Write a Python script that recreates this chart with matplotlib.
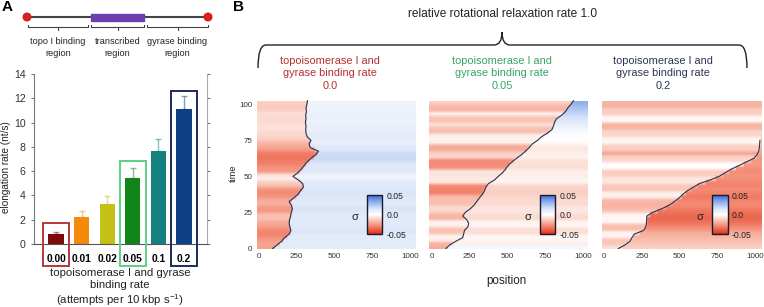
import numpy as np
import matplotlib
matplotlib.use('Agg')
import matplotlib.pyplot as plt
from matplotlib.colors import LinearSegmentedColormap
from matplotlib.patches import Rectangle, Circle, PathPatch
from matplotlib.path import Path

plt.rcParams['font.family'] = ['Liberation Sans', 'DejaVu Sans']
plt.rcParams['mathtext.fontset'] = 'custom'
plt.rcParams['mathtext.rm'] = 'Liberation Sans'
plt.rcParams['mathtext.it'] = 'Liberation Sans:italic'

# ---- panel A data ----
binding_rates = ['0.00', '0.01', '0.02', '0.05', '0.1', '0.2']
elong_rate = [0.85, 2.2, 3.3, 5.4, 7.7, 11.1]
elong_err = [0.1, 0.5, 0.65, 0.85, 0.95, 1.05]
bar_colors = ['#7b0a0a', '#f58a0a', '#c4c015', '#12851a', '#148080', '#0f3f85']

# ---- panel B data (row edges in time, polymerase position, supercoiling) ----
time = [0, 2.5, 5, 7.5, 10, 12.5, 15, 17.5, 20, 22.5, 25, 27.5, 30, 32.5,
        35, 37.5, 40, 42.5, 45, 47.5, 50, 52.5, 55, 57.5, 60, 62.5, 65,
        67.5, 70, 72.5, 75, 77.5, 80, 82.5, 85, 87.5, 90, 92.5, 95, 97.5,
        100, 102.5]

pos_r0 = [90, 120, 150, 170, 200, 212, 205, 200, 203, 210, 214, 222, 215,
          200, 230, 258, 275, 295, 290, 262, 225, 258, 280, 300, 318, 345,
          375, 395, 340, 332, 345, 320, 312, 310, 312, 308, 312, 310, 315,
          312, 318, 322]
left_r0 = [-0.022, -0.022, -0.024, -0.028, -0.03, -0.027, -0.022, -0.02,
           -0.015, -0.016, -0.025, -0.024, -0.019, -0.02, -0.026, -0.028,
           -0.026, -0.016, -0.012, -0.004, -0.008, -0.024, -0.026, -0.03,
           -0.032, -0.033, -0.031, -0.024, -0.02, -0.017, -0.012, -0.01,
           -0.009, -0.007, -0.008, -0.009, -0.009, -0.008, -0.012, -0.013,
           -0.012]
right_r0 = [0.011, 0.011, 0.011, 0.011, 0.014, 0.014, 0.012, 0.012, 0.012,
            0.012, 0.015, 0.015, 0.012, 0.012, 0.014, 0.014, 0.014, 0.012,
            0.012, 0.007, 0.007, 0.013, 0.013, 0.013, 0.018, 0.018, 0.018,
            0.013, 0.013, 0.008, 0.011, 0.011, 0.009, 0.009, 0.008, 0.008,
            0.008, 0.008, 0.007, 0.007, 0.007]

pos_r05 = [95, 120, 160, 205, 212, 217, 240, 245, 232, 206, 222, 255, 280,
           298, 315, 335, 350, 358, 375, 415, 440, 468, 488, 505, 530, 560,
           593, 620, 645, 665, 700, 726, 765, 795, 805, 812, 825, 860, 885,
           900, 920, 937]
left_r05 = [-0.02, -0.018, -0.004, -0.003, -0.014, -0.015, -0.004, -0.003,
            -0.018, -0.017, -0.01, -0.009, -0.016, -0.016, -0.017, -0.03,
            -0.03, -0.028, -0.006, -0.005, -0.007, -0.006, -0.026, -0.028,
            -0.027, -0.01, -0.011, -0.02, -0.02, -0.004, -0.003, -0.005,
            -0.016, -0.015, -0.008, -0.015, -0.014, -0.003, -0.018, -0.017,
            -0.012]
right_r05 = [0.004, -0.004, -0.002, -0.002, -0.008, -0.008, -0.002, -0.003,
             -0.009, -0.008, -0.006, -0.006, -0.009, -0.009, -0.01, -0.012,
             -0.011, -0.01, -0.003, -0.003, -0.004, -0.004, -0.008, -0.008,
             -0.007, -0.003, -0.004, -0.006, -0.005, -0.001, 0.0, 0.001,
             0.004, 0.006, 0.009, 0.013, 0.016, 0.02, 0.024, 0.028, 0.032]

nan = np.nan
pos_r2 = [95, 140, 172, 185, 200, 262, 276, 280, 282, 283, 320, 380, 430,
          465, 495, 520, 550, 590, 630, 700, 760, 800, 840, 890, 940, 990,
          1010, 1022, 1026, 1028, 1030, nan, nan, nan, nan, nan, nan, nan,
          nan, nan, nan, nan]
left_r2 = [-0.008, -0.014, -0.014, -0.003, -0.003, -0.016, -0.016, -0.002,
           -0.002, -0.003, -0.014, -0.018, -0.018, -0.017, -0.004, -0.004,
           -0.014, -0.013, -0.006, -0.006, -0.012, -0.012, -0.001, 0.0,
           -0.01, -0.011, -0.022, -0.012, -0.012, -0.003, -0.003, -0.01,
           -0.01, -0.018, -0.018, -0.002, -0.002, -0.012, -0.012, -0.018,
           -0.018]
right_r2 = [-0.012, -0.014, -0.016, -0.018, -0.02, -0.026, -0.03, -0.034,
            -0.036, -0.035, -0.033, -0.03, -0.028, -0.03, -0.032, -0.03,
            -0.028, -0.03, -0.029, -0.027, -0.026, -0.028, -0.026, -0.024,
            -0.025, -0.024, -0.022, -0.022, -0.02, -0.02, -0.02, -0.02,
            -0.02, -0.02, -0.02, -0.02, -0.02, -0.02, -0.02, -0.02, -0.02]

W, H = 764, 307


def px_rect(l, t, r, b):
    return [l / W, 1 - b / H, (r - l) / W, (b - t) / H]


fig = plt.figure(figsize=(W / 100, H / 100), dpi=100)

# overlay for schematic, brace, panel letters
ov = fig.add_axes([0, 0, 1, 1], zorder=5)
ov.set_xlim(0, W)
ov.set_ylim(H, 0)
ov.axis('off')
ov.patch.set_alpha(0)

ov.text(2, 11, 'A', fontsize=11, fontweight='bold', va='baseline')
ov.text(233, 11, 'B', fontsize=11, fontweight='bold', va='baseline')

# schematic of the DNA template
ov.plot([27, 208], [17, 17], color='#444444', lw=1.5, zorder=1)
ov.add_patch(Rectangle((91, 14), 53, 7, color='#6c3fb0', zorder=2))
for cx in (27, 208):
    ov.add_patch(Circle((cx, 17), 3.8, color='#d42020', zorder=3))
for x0, x1, lab in [(28, 88, 'topo I binding\nregion'),
                    (91, 144, 'transcribed\nregion'),
                    (147, 208, 'gyrase binding\nregion')]:
    xm = (x0 + x1) / 2
    ov.plot([x0, x0, x1, x1], [25, 27, 27, 25], color='#444444', lw=0.8)
    ov.plot([xm, xm], [27, 29.5], color='#444444', lw=0.8)
    ov.text(xm, 47.5, lab, fontsize=6.6, ha='center', va='center',
            color='#222222', linespacing=1.3)

# brace over panel B
verts = [(258, 68), (258, 45), (266, 45), (494, 45), (502, 45), (502, 32),
         (502, 45), (510, 45), (739, 45), (747, 45), (747, 68)]
codes = [Path.MOVETO, Path.CURVE3, Path.CURVE3, Path.LINETO, Path.CURVE3,
         Path.CURVE3, Path.CURVE3, Path.CURVE3, Path.LINETO, Path.CURVE3,
         Path.CURVE3]
ov.add_patch(PathPatch(Path(verts, codes), fill=False, lw=1.0,
                       edgecolor='#222222'))
ov.text(502, 14, 'relative rotational relaxation rate 1.0', fontsize=8.6,
        ha='center', va='center', color='#222222')

sub_titles = ['0.0', '0.05', '0.2']
sub_colors = ['#b5302f', '#35a464', '#2c3556']
sub_x = [330, 502, 663]
for sx, st, sc in zip(sub_x, sub_titles, sub_colors):
    ov.text(sx, 73.5, 'topoisomerase I and\ngyrase binding rate\n' + st,
            fontsize=7.9, ha='center', va='center', color=sc,
            linespacing=1.3)

# ---- panel A bar chart ----
ax = fig.add_axes(px_rect(34, 74, 207, 244))
xs = np.arange(len(elong_rate))
ax.bar(xs, elong_rate, width=0.6, color=bar_colors, zorder=2)
for x, v, e, c in zip(xs, elong_rate, elong_err, bar_colors):
    ax.errorbar(x, v, yerr=[[0], [e]], fmt='none', ecolor=c, alpha=0.5,
                capsize=2, elinewidth=1, capthick=1, zorder=1)
ax.set_xlim(-0.86, 5.9)
ax.set_ylim(0, 14)
ax.set_yticks(range(0, 15, 2))
ax.set_xticks(xs)
ax.set_xticklabels(binding_rates, fontsize=7.4, fontweight='bold')
ax.tick_params(axis='x', length=0, pad=7)
ax.tick_params(axis='y', labelsize=7.6, length=2.5, color='#777777',
               labelcolor='#333333', right=True)
ax.spines['top'].set_visible(False)
ax.spines['left'].set_color('#777777')
ax.spines['right'].set_color('#aaaaaa')
ax.spines['bottom'].set_color('#555555')
ax.set_ylabel('elongation rate (nt/s)', fontsize=7.2, color='#222222')
ax.yaxis.set_label_coords(-0.135, 0.45)
for i, top, ec in [(0, 1.7, '#b23a3a'), (3, 6.85, '#5fcf85'),
                   (5, 12.6, '#1c2b58')]:
    ax.add_patch(Rectangle((i - 0.5, -1.8), 1.0, top + 1.8, fill=False,
                           edgecolor=ec, lw=1.4, clip_on=False, zorder=3))
fig.text(120 / W, 1 - 288 / H,
         'topoisomerase I and gyrase\nbinding rate\n'
         '(attempts per 10 kbp s$^{-1}$)',
         fontsize=8.2, ha='center', va='center', color='#222222',
         linespacing=1.25)

# ---- panel B kymographs ----
cmap = LinearSegmentedColormap.from_list(
    'sigma', [(0.0, '#dc2a12'), (0.2, '#f3836c'), (0.35, '#f9c2b3'),
              (0.5, '#ffffff'), (0.65, '#dae5f8'), (0.8, '#9ab7ee'),
              (1.0, '#3a6cd8')])

panels = [(256.7, 415.0, pos_r0, left_r0, right_r0),
          (429.3, 588.3, pos_r05, left_r05, right_r05),
          (601.7, 760.7, pos_r2, left_r2, right_r2)]

x_edges = np.linspace(-15, 1035, 1051)
x_mid = 0.5 * (x_edges[:-1] + x_edges[1:])

for k, (l, r, pos, left, right) in enumerate(panels):
    hax = fig.add_axes(px_rect(l, 100, r, 248.5))
    pos = np.array(pos, dtype=float)
    C = np.empty((len(left), len(x_mid)))
    for i in range(len(left)):
        p0, p1 = pos[i], pos[i + 1]
        if np.isnan(p0):
            C[i] = left[i]
            continue
        p = p0 if np.isnan(p1) else 0.5 * (p0 + p1)
        C[i] = np.where(x_mid < p, left[i], right[i])
    img = hax.imshow(C, cmap=cmap, vmin=-0.05, vmax=0.05, origin='lower',
                     aspect='auto', interpolation='bilinear',
                     extent=[x_edges[0], x_edges[-1], time[0], time[-1]])
    hax.plot(pos, time, color='#27324f', lw=0.8)
    hax.set_xlim(-15, 1035)
    hax.set_ylim(0, 103)
    hax.set_xticks([0, 250, 500, 750, 1000])
    hax.tick_params(labelsize=5.8, length=0, pad=3, labelcolor='#333333')
    if k == 0:
        hax.set_yticks([0, 25, 50, 75, 100])
        hax.set_ylabel('time', fontsize=6.6, color='#222222')
        hax.yaxis.set_label_coords(-0.118, 0.51)
    else:
        hax.set_yticks([])
    for s in hax.spines.values():
        s.set_visible(False)

    cax = hax.inset_axes([0.695, 0.095, 0.098, 0.265])
    cb = fig.colorbar(img, cax=cax, ticks=[-0.05, 0, 0.05])
    cb.ax.set_yticklabels(['-0.05', '0.0', '0.05'])
    cb.ax.tick_params(labelsize=6.2, length=0, pad=3,
                      labelcolor='#222222')
    cb.outline.set_edgecolor('#1a1a2e')
    cb.outline.set_linewidth(1.0)
    hax.text(0.62, 0.214, 'σ', transform=hax.transAxes, fontsize=8,
             ha='center', va='center', color='#222222')

fig.text(506 / W, 1 - 281 / H, 'position', fontsize=8.4, ha='center',
         va='center', color='#222222')

fig.savefig('out.png', dpi=100)
